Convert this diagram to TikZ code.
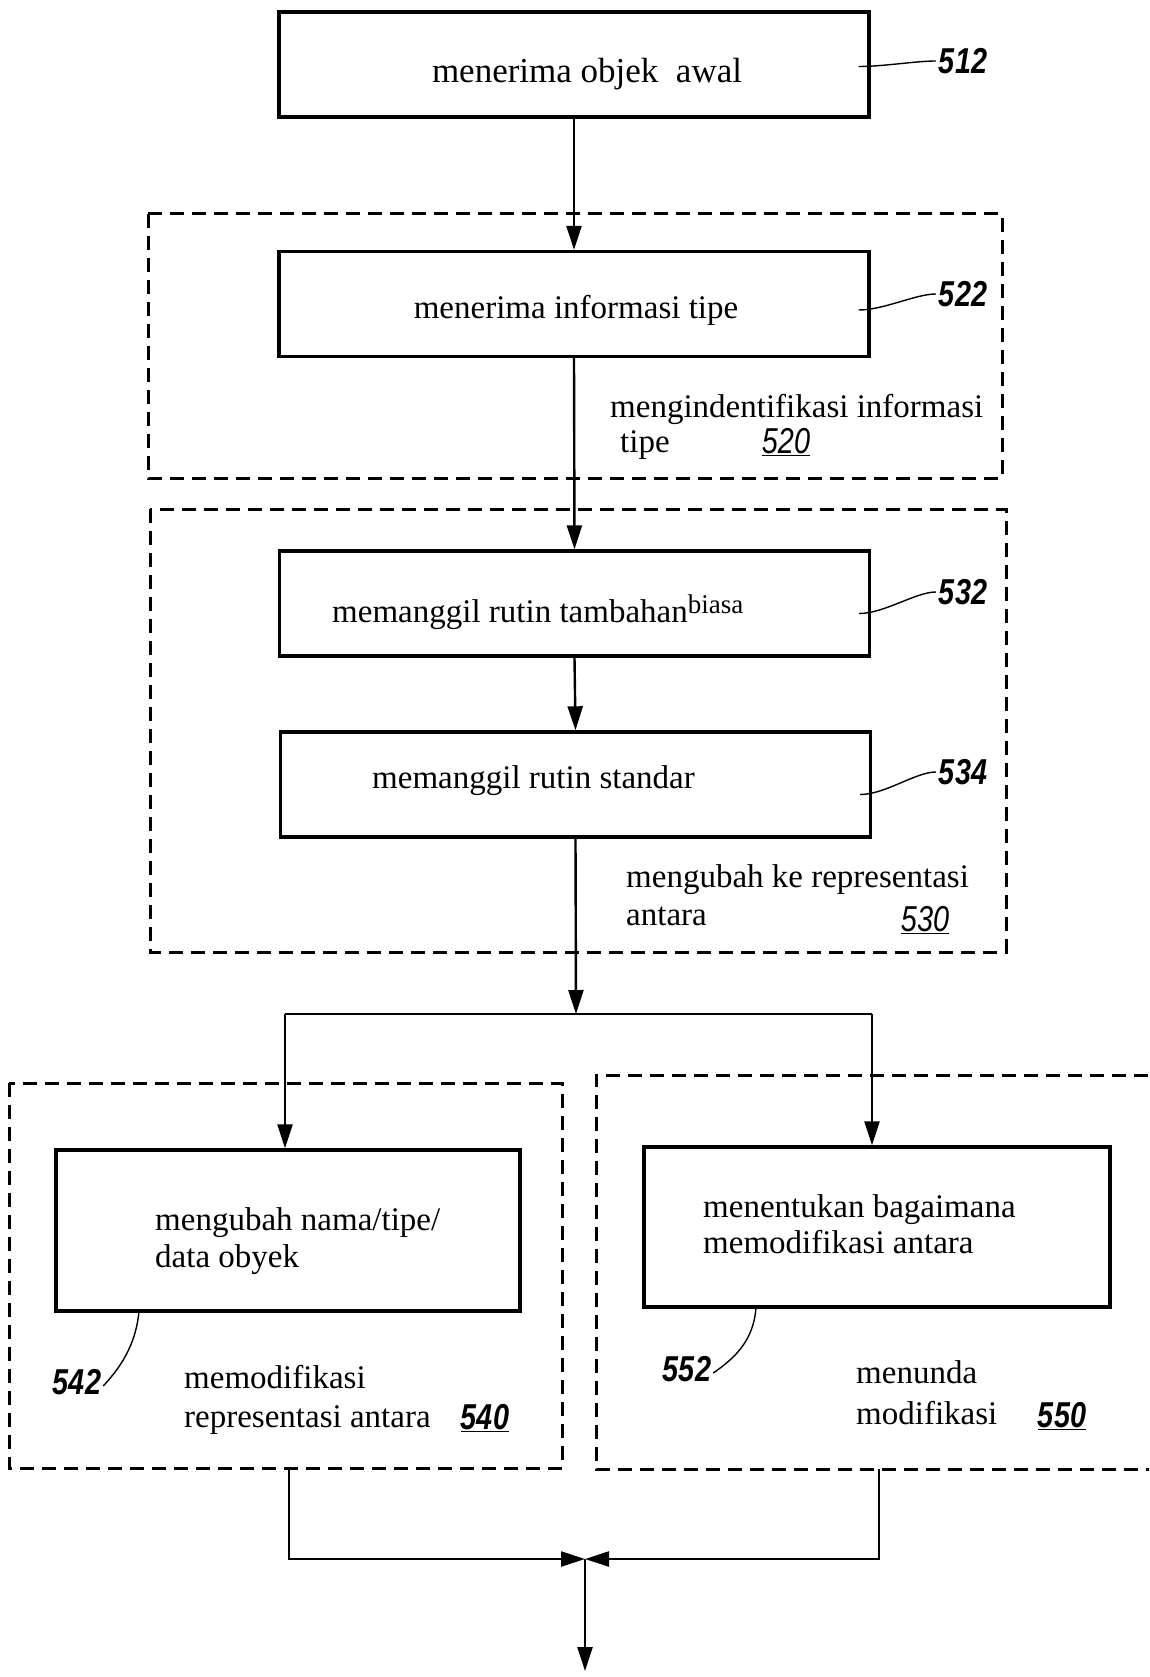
\documentclass[tikz,border=0pt]{standalone}
\usepackage{fontspec}
\setmainfont{Liberation Serif}
\newfontfamily\numfont[FakeStretch=0.8]{Liberation Sans}
\usetikzlibrary{arrows.meta}
\begin{document}
\begin{tikzpicture}[x=1pt,y=-1pt,
  box/.style={draw,line width=3.4pt,inner sep=0pt,minimum width=590pt,minimum height=105pt},
  grp/.style={draw,line width=3pt,dash pattern=on 14pt off 8pt},
  txt/.style={font=\fontsize{33}{38}\selectfont,inner sep=0pt},
  num/.style={font=\numfont\bfseries\itshape\fontsize{36}{40}\selectfont,inner sep=0pt},
  unum/.style={font=\numfont\itshape\fontsize{36}{40}\selectfont,inner sep=0pt},
  flow/.style={line width=2.4pt,-{Triangle[length=24pt,width=15pt]}},
  line/.style={line width=2.4pt},
  lead/.style={line width=1.4pt}]
\useasboundingbox (0,0) rectangle (1149,1677);
\clip (0,0) rectangle (1149,1677);

% group boxes
\draw[grp] (148,214) rectangle (1002,478);
\draw[grp] (150,509) rectangle (1006,952);
\draw[grp] (9,1083) rectangle (562,1468);
\draw[grp] (1170,1075) -- (596,1075) -- (596,1469) -- (1170,1469);

% boxes
\node[box] (B512) at (574,64.5) {};
\node[box] (B522) at (574,304) {};
\node[box] (B532) at (574.5,603.5) {};
\node[box] (B534) at (575.5,784.5) {};
\node[box,minimum width=464pt,minimum height=161pt] (B542) at (288,1230.5) {};
\node[box,minimum width=466pt,minimum height=160pt] (B552) at (877,1227) {};

% box texts
\node[txt,anchor=mid,font=\fontsize{35}{40}\selectfont] (T512) at (587,80) {menerima objek\ \ awal};
\node[txt,anchor=mid] (T522) at (576,316) {menerima informasi tipe};
\node[txt,anchor=mid west] (T532) at (332,620) {memanggil rutin tambahan\raisebox{0.55ex}{\fontsize{27}{30}\selectfont biasa}};
\node[txt,anchor=mid west] (T534) at (372,786) {memanggil rutin standar};
\node[txt,anchor=mid west] (T542a) at (155,1228) {mengubah nama/tipe/};
\node[txt,anchor=mid west] (T542b) at (155,1265) {data obyek};
\node[txt,anchor=mid west] (T552a) at (703,1215) {menentukan bagaimana};
\node[txt,anchor=mid west] (T552b) at (703,1251) {memodifikasi antara};

% group texts
\node[txt,anchor=mid west] (G520a) at (610,415) {mengindentifikasi informasi};
\node[txt,anchor=mid west] (G520b) at (620,450) {tipe};
\node[unum] (N520) at (786,442) {\underline{520}};
\node[txt,anchor=mid west] (G530a) at (626,885) {mengubah ke representasi};
\node[txt,anchor=mid west] (G530b) at (626,923) {antara};
\node[unum] (N530) at (925,920) {\underline{530}};
\node[txt,anchor=mid west] (G540a) at (184,1386) {memodifikasi};
\node[txt,anchor=mid west] (G540b) at (184,1425) {representasi antara};
\node[num] (N540) at (485,1418) {\underline{540}};
\node[txt,anchor=mid west] (G550a) at (856,1381) {menunda};
\node[txt,anchor=mid west] (G550b) at (856,1422) {modifikasi};
\node[num] (N550) at (1062,1416) {\underline{550}};

% reference numerals
\node[num] (L512) at (963,61) {512};
\node[num] (L522) at (963,294) {522};
\node[num] (L532) at (963,592) {532};
\node[num] (L534) at (963,772) {534};
\node[num] (L542) at (77,1382) {542};
\node[num] (L552) at (687,1369) {552};

\draw[lead] ([xshift=-12pt,yshift=-2pt]B512.east) .. controls +(25,0) and +(-20,0) .. ([xshift=-3pt]L512.west);
\draw[lead] ([xshift=-12pt,yshift=-6pt]B522.east) .. controls +(25,0) and +(-20,0) .. ([xshift=-3pt]L522.west);
\draw[lead] ([xshift=-12pt,yshift=-10pt]B532.east) .. controls +(25,0) and +(-20,0) .. ([xshift=-3pt]L532.west);
\draw[lead] ([xshift=-12pt,yshift=-10pt]B534.east) .. controls +(25,0) and +(-20,0) .. ([xshift=-3pt]L534.west);
\draw[lead] (139,1311) .. controls (136,1345) and (120,1368) .. ([xshift=2pt,yshift=-4pt]L542.east);
\draw[lead] (756,1307) .. controls (754,1340) and (735,1358) .. ([xshift=2pt,yshift=-4pt]L552.east);

% flow
\draw[flow] (B512.south) -- (B522.north);
\draw[flow] (B522.south) -- (B532.north);
\draw[flow] (B532.south) -- (B534.north);
\coordinate (J) at (576,1014);
\coordinate (JL) at (285,1014);
\coordinate (JR) at (872,1014);
\draw[flow] (B534.south) -- (J);
\draw[line] (JL) -- (JR);
\draw[flow] (JL) -- (JL |- B542.north);
\draw[flow] (JR) -- (JR |- B552.north);
\coordinate (M) at (585,1559);
\coordinate (ML) at (289,1468);
\coordinate (MR) at (879,1469);
\coordinate (OUT) at (585,1671);
\draw[flow] (ML) |- (M);
\draw[flow] (MR) |- (M);
\draw[flow] (M) -- (OUT);
\end{tikzpicture}
\end{document}
